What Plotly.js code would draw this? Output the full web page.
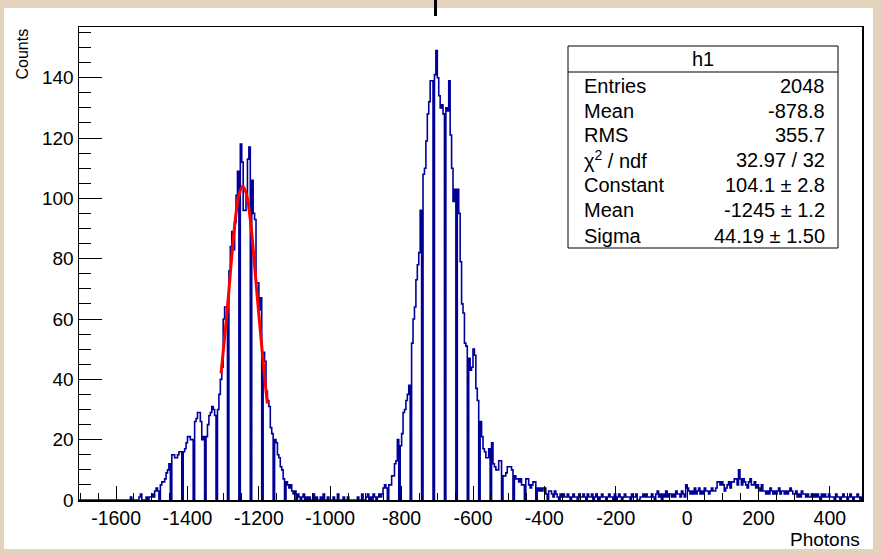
<!DOCTYPE html>
<html>
<head>
<meta charset="utf-8">
<script src="https://cdn.plot.ly/plotly-3.0.1.min.js"></script>
<style>
html,body{margin:0;padding:0;background:#e3d3bd;}
#chart{width:881px;height:556px;}
</style>
</head>
<body>
<div id="chart"></div>
<script>
// ---- histogram definition (bin width 4 photons, first edge -1704) ----
const binStart = -1704;
const binWidth = 4;

// counts, 8 bins per line (32 photons per line)
const countsLowEdge = [
  0,0,0,0,0,0,0,0,   // -1704
  0,0,0,0,0,0,0,0,   // -1672
  0,0,0,0,0,0,0,0,   // -1640
  0,0,0,0,0,0,0,0,   // -1608
  0,0,0,0,1,0,0,0,   // -1576
  0,0,1,2,0,0,0,1    // -1544
];
const countsPeak1 = [
  0,1,1,2,1,3,4,3,          // -1512
  0,5,6,6,7,9,10,12,        // -1480
  0,15,15,14,14,15,16,16,   // -1448
  0,16,17,19,21,21,20,20,   // -1416
  0,26,27,29,29,26,20,21,   // -1384
  0,21,25,28,29,31,30,28,   // -1352
  0,30,35,40,44,60,64,64,   // -1320
  0,76,84,89,83,92,101,109, // -1288
  0,118,112,96,96,101,113,117, // -1256
  0,106,95,93,72,72,63,67,  // -1224
  0,49,46,36,33,31,24,22,   // -1192
  0,20,19,15,14,11,10,7,    // -1160
  0,6,5,4,5,3,2,3           // -1128
];
const countsGap = [
  0,2,1,0,1,2,0,1,   // -1096
  0,1,0,0,2,0,1,0,   // -1064
  0,1,0,2,0,0,1,0,   // -1032
  0,0,1,0,0,2,0,0,   // -1000
  0,1,0,0,1,0,0,0,   // -968
  0,0,0,1,0,0,2,0,   // -936
  0,1,2,0,1,0,2,1,   // -904
  0,1,2,1,2,4,5,4    // -872
];
const countsPeak2 = [
  0,5,5,8,8,12,13,20,          // -840
  0,18,22,29,30,33,35,38,      // -808
  0,52,60,64,73,78,82,96,      // -776
  0,108,110,119,128,132,139,139, // -744
  0,141,149,140,134,130,131,128, // -712
  0,130,129,139,121,110,99,103,  // -680
  0,103,95,79,65,62,52,51,     // -648
  0,47,43,44,50,48,37,33,      // -616
  0,26,21,17,16,14,14,17,      // -584
  0,19,12,11,10,10,13,13,      // -552
  0,8,8,9,11,11,11,10,         // -520
  0,8,7,7,6,7,5,5,             // -488
  0,7,7,5,4,5,6,6,             // -456
  0,4,3,4,3,4,4,2              // -424
];
const countsTail = [
  0,3,3,2,1,3,2,1,   // -392
  0,2,1,2,1,1,2,1,   // -360
  0,1,2,1,1,0,2,1,   // -328
  1,2,1,0,2,1,1,2,   // -296
  0,1,2,1,0,1,2,1,   // -264
  1,0,1,2,1,1,0,2,   // -232
  0,1,2,1,0,1,2,1,   // -200
  1,1,0,2,1,1,2,0,   // -168
  0,1,1,2,1,2,1,1,   // -136
  1,2,1,0,2,3,1,2,   // -104
  0,2,1,3,1,2,2,1,   // -72
  2,1,3,2,2,1,3,2,   // -40
  1,5,4,3,2,3,2,4,   // -8
  2,3,4,2,3,2,4,3,   // 24
  3,2,3,4,3,3,4,6,   // 56
  6,5,6,5,3,4,5,6,   // 88
  4,6,6,7,7,5,10,7,  // 120
  5,7,6,5,4,6,7,5,   // 152
  5,6,4,5,4,3,5,3,   // 184
  3,2,3,2,4,3,2,3,   // 216
  2,3,4,2,3,3,2,3,   // 248
  2,3,4,3,2,2,3,1,   // 280
  2,1,3,2,2,1,2,1,   // 312
  1,2,1,2,1,2,1,0,   // 344
  2,1,2,1,1,2,1,1,   // 376
  1,0,2,1,1,0,1,2,   // 408
  1,1,0,1,2,1,0,1,   // 440
  1,2,1,0,1,2,1,1    // 472
];

// ---- gaussian fit curve ----
const fitX = [-1306,-1295,-1285,-1275,-1265,-1255,-1245,-1235,-1225,-1215,-1205,-1195,-1185,-1176];
const fitY = [42,55,68,82,94,101.5,104,101.5,94,82,68,55,42,32];

// ---- axis ticks ----
const xTickVals = [-1600,-1400,-1200,-1000,-800,-600,-400,-200,0,200,400];
const xTickText = ["-1600","-1400","-1200","-1000","-800","-600","-400","-200","0","200","400"];
const xRange = [-1704, 490];
const yRange = [0, 156.8];

// ---- stats box ----
const statTitle = "h1";
const statLabels = ["Entries","Mean","RMS","\u03c7<sup>2</sup> / ndf","Constant","Mean","Sigma"];
const statValues = ["2048","-878.8","355.7","32.97 / 32","104.1 \u00b1 2.8","-1245 \u00b1 1.2","44.19 \u00b1 1.50"];

// ---- build histogram outline ----
const counts = [].concat(countsLowEdge, countsPeak1, countsGap, countsPeak2, countsTail);
const edges = counts.map((c, i) => binStart + i * binWidth);
edges.push(binStart + counts.length * binWidth);
const ys = counts.slice();
ys.push(counts[counts.length - 1]);

const FONT = "Liberation Sans, Arial, Helvetica, sans-serif";

const traces = [
  {
    type: "scatter", mode: "lines", x: edges, y: ys,
    line: {shape: "hv", color: "#000099", width: 1.6},
    hoverinfo: "skip", cliponaxis: true
  },
  {
    type: "scatter", mode: "lines", x: fitX, y: fitY,
    line: {shape: "spline", color: "#ff0000", width: 3},
    hoverinfo: "skip"
  }
];

// plot area in pixels: x 79..862, y 27..500
const L = 79, R = 19, T = 27, B = 56, W = 881, H = 556;
const pw = W - L - R, ph = H - T - B;
const px = v => (v - L) / pw;
const py = v => (H - B - v) / ph;

const shapes = [
  // white canvas
  {type: "rect", xref: "paper", yref: "paper", layer: "below",
   x0: px(4), x1: px(873), y0: py(549), y1: py(8),
   fillcolor: "#ffffff", line: {width: 0}},
  // descender of the (cut-off) title above the canvas
  {type: "rect", xref: "paper", yref: "paper",
   x0: px(434), x1: px(437), y0: py(16), y1: py(0),
   fillcolor: "#000000", line: {width: 0}},
  // stats box
  {type: "rect", xref: "paper", yref: "paper",
   x0: px(568), x1: px(838), y0: py(248), y1: py(46),
   fillcolor: "#ffffff", line: {color: "#000", width: 1}},
  {type: "line", xref: "paper", yref: "paper",
   x0: px(568), x1: px(838), y0: py(72), y1: py(72),
   line: {color: "#000", width: 1}}
];

const annotations = [
  {text: statTitle, xref: "paper", yref: "paper", x: px(703), y: py(59),
   xanchor: "center", yanchor: "middle", showarrow: false,
   font: {family: FONT, size: 20, color: "#000"}},
  {text: "Counts", xref: "paper", yref: "paper", x: px(22), y: 1,
   xanchor: "center", yanchor: "top", textangle: -90, showarrow: false,
   font: {family: FONT, size: 16, color: "#000"}},
  {text: "Photons", xref: "paper", yref: "paper", x: 1, y: py(539),
   xanchor: "right", yanchor: "middle", showarrow: false,
   font: {family: FONT, size: 19, color: "#000"}}
];
const rowY = [86, 111, 135, 160, 185, 210, 236];
statLabels.forEach((t, i) => {
  annotations.push({text: t, xref: "paper", yref: "paper", x: px(582), y: py(rowY[i]),
    xanchor: "left", yanchor: "middle", showarrow: false,
    font: {family: FONT, size: 20, color: "#000"}});
  annotations.push({text: statValues[i], xref: "paper", yref: "paper", x: px(827), y: py(rowY[i]),
    xanchor: "right", yanchor: "middle", showarrow: false,
    font: {family: FONT, size: 20, color: "#000"}});
});

const layout = {
  width: W, height: H,
  margin: {l: L, r: R, t: T, b: B, pad: 0},
  paper_bgcolor: "#e3d3bd",
  plot_bgcolor: "#ffffff",
  showlegend: false,
  font: {family: FONT, color: "#000"},
  xaxis: {
    range: xRange, tickmode: "array", tickvals: xTickVals, ticktext: xTickText,
    ticks: "inside", ticklen: 14, tickwidth: 1, tickcolor: "#000",
    minor: {ticks: "inside", ticklen: 7, tick0: 0, dtick: 50, tickcolor: "#000", tickwidth: 1},
    showline: true, linecolor: "#000", linewidth: 1.5, mirror: true,
    showgrid: false, zeroline: false,
    tickfont: {family: FONT, size: 19.5, color: "#000"}
  },
  yaxis: {
    range: yRange, tick0: 0, dtick: 20,
    ticks: "inside", ticklen: 23, tickwidth: 1, tickcolor: "#000",
    minor: {ticks: "inside", ticklen: 12, tick0: 0, dtick: 5, tickcolor: "#000", tickwidth: 1},
    showline: true, linecolor: "#000", linewidth: 1.5, mirror: true,
    showgrid: false, zeroline: false,
    tickfont: {family: FONT, size: 19, color: "#000"}
  },
  shapes: shapes,
  annotations: annotations
};

Plotly.newPlot("chart", traces, layout, {staticPlot: true, displayModeBar: false});
</script>
</body>
</html>
